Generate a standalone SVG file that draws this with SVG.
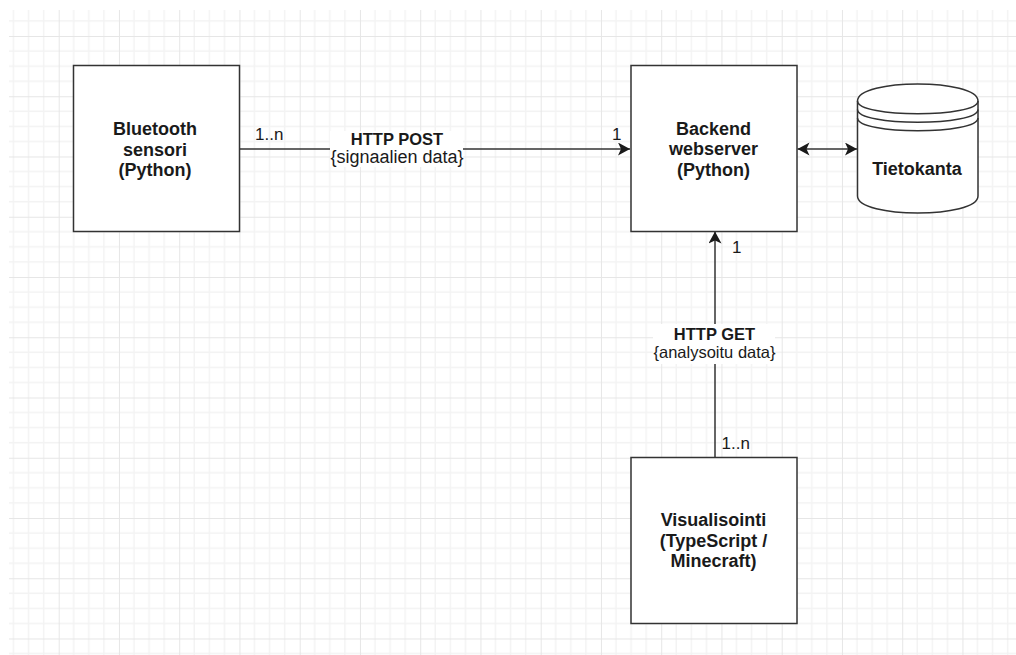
<svg xmlns="http://www.w3.org/2000/svg" width="1016" height="655" viewBox="0 0 1016 655">
  <style>
    .box { fill: #ffffff; stroke: #333333; stroke-width: 1.5; }
    .edge { fill: none; stroke: #333333; stroke-width: 1.5; }
    .node-label { font-family: "Liberation Sans", Arial, sans-serif; font-weight: bold; font-size: 18px; fill: #1a1a1a; text-anchor: middle; }
    .edge-title { font-family: "Liberation Sans", Arial, sans-serif; font-weight: bold; font-size: 16.5px; fill: #1a1a1a; text-anchor: middle; }
    .edge-sub { font-family: "Liberation Sans", Arial, sans-serif; font-size: 16.5px; fill: #1a1a1a; text-anchor: middle; }
    .mult { font-family: "Liberation Sans", Arial, sans-serif; font-size: 17px; fill: #1a1a1a; }
    .label-bg { fill: #ffffff; }
  </style>
  <defs>
    <!-- background grid: 4 minor cells per major cell -->
    <pattern id="grid" patternUnits="userSpaceOnUse" x="58.7" y="36" width="60.25" height="60.25">
      <path d="M15.06 0V60.25M30.12 0V60.25M45.19 0V60.25M0 15.06H60.25M0 30.12H60.25M0 45.19H60.25" stroke="#f3f3f3" stroke-width="1.5" fill="none"/>
      <path d="M0.5 0V60.25M0 0.5H60.25" stroke="#e6e6e6" stroke-width="1" fill="none"/>
    </pattern>
    <marker id="arrow" markerUnits="userSpaceOnUse" markerWidth="14" markerHeight="14" refX="12" refY="6.5" orient="auto-start-reverse" viewBox="0 0 14 14">
      <path d="M0 0L12 6.5L0 13L3 6.5Z" fill="#1a1a1a"/>
    </marker>
  </defs>

  <rect x="0" y="0" width="1016" height="655" fill="#ffffff"/>
  <rect x="9" y="10" width="1007" height="645" fill="url(#grid)"/>

  <!-- connectors -->
  <g id="connectors">
    <path class="edge" d="M240 149H630" marker-end="url(#arrow)"/>
    <rect class="label-bg" x="330" y="131" width="133" height="36"/>
    <text class="edge-title" x="397" y="145">HTTP POST</text>
    <text class="edge-sub" x="397" y="162.5" style="font-size:18px">{signaalien data}</text>
    <text class="mult" x="255" y="140">1..n</text>
    <text class="mult" x="612" y="139.5">1</text>

    <path class="edge" d="M715 457V231.5" marker-end="url(#arrow)"/>
    <rect class="label-bg" x="653" y="324" width="122" height="40"/>
    <text class="edge-title" x="714.5" y="340">HTTP GET</text>
    <text class="edge-sub" x="714.5" y="357.5">{analysoitu data}</text>
    <text class="mult" x="732" y="252.5">1</text>
    <text class="mult" x="721.5" y="448.5">1..n</text>

    <path class="edge" d="M797.5 149H857" marker-start="url(#arrow)" marker-end="url(#arrow)"/>
  </g>

  <g id="bluetooth">
    <rect class="box" x="73.5" y="65.5" width="166" height="166"/>
    <text class="node-label" x="155" y="135">Bluetooth</text>
    <text class="node-label" x="155" y="155.7">sensori</text>
    <text class="node-label" x="155" y="176.4">(Python)</text>
  </g>

  <g id="backend">
    <rect class="box" x="631" y="65.5" width="166" height="166"/>
    <text class="node-label" x="713.5" y="134.5">Backend</text>
    <text class="node-label" x="713.5" y="155.2">webserver</text>
    <text class="node-label" x="713.5" y="175.9">(Python)</text>
  </g>

  <g id="visualisointi">
    <rect class="box" x="631" y="457.5" width="166" height="166"/>
    <text class="node-label" x="713.5" y="526">Visualisointi</text>
    <text class="node-label" x="713.5" y="546.7">(TypeScript /</text>
    <text class="node-label" x="713.5" y="567.4">Minecraft)</text>
  </g>

  <g id="tietokanta" transform="translate(857.5 84)">
    <path class="box" d="M0 17C0 -5.67 120.5 -5.67 120.5 17L120.5 112C120.5 134.67 0 134.67 0 112Z"/>
    <path class="edge" d="M0 17C0 34 120.5 34 120.5 17M0 25.5C0 42.5 120.5 42.5 120.5 25.5M0 34C0 51 120.5 51 120.5 34"/>
    <text class="node-label" x="59.5" y="91">Tietokanta</text>
  </g>
</svg>
